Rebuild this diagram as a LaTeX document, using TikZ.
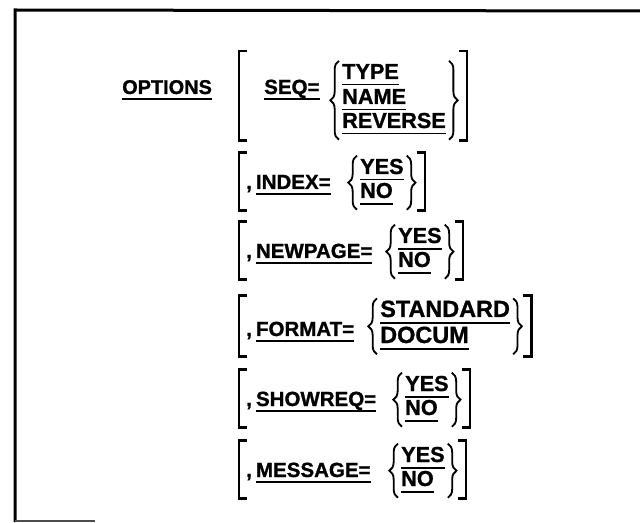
\documentclass[tikz,border=0pt]{standalone}
\usepackage{fontspec}
\setmainfont[BoldFeatures={FakeBold=1.1}]{Liberation Sans}
\usetikzlibrary{positioning,calc,decorations.pathreplacing}

% underlined keyword, rule set a little below the baseline
\newcommand{\optul}[1]{\setbox0=\hbox{#1}\rlap{\rule[-0.3em]{\wd0}{0.085em}}\box0}

\begin{document}
\begin{tikzpicture}[x=0.3mm, y=-0.3mm]
\tikzstyle{word}=[inner sep=0pt, anchor=base west, font=\fontsize{17.5}{21}\selectfont\bfseries]
\tikzstyle{opt}=[word, font=\fontsize{18.5}{22}\selectfont\bfseries]
\tikzstyle{bigopt}=[word, font=\fontsize{20}{24}\selectfont\bfseries]
\tikzstyle{brk}=[line width=0.8mm]
\tikzstyle{brc}=[line width=0.55mm, decorate, decoration={brace, amplitude=2.6mm}]
\tikzstyle{frame}=[line width=0.9mm]
\useasboundingbox (0,0) rectangle (640,523);
% frame, cut off at the right and the bottom
\draw[frame] (640,11) -- (15,10) -- (15,522);
\draw[line width=0.6mm, black!70] (15,521) -- (95,521);
\coordinate (lb) at (239,0);

% SEQ
\node[word, font=\fontsize{17}{20}\selectfont\bfseries] (opts) at (122,94) {\optul{OPTIONS}};
\node[word] (seq) at (264,94) {\optul{SEQ=}};
\node[opt] (type) at (342,79) {\optul{TYPE}};
\node[opt] (name) at (342,104) {\optul{NAME}};
\node[opt] (rev) at (342,128) {\optul{REVERSE}};
\draw[brk] ($(lb |- type.north)+(8,-13)$) -| ($(lb |- rev.south)+(0,6)$) -- ++(8,0);
\draw[brc] ($(rev.south west)+(-3,5)$) -- ($(type.north west)+(-3,-3)$);
\draw[brc] ($(rev.east |- type.north)+(3,-3)$) -- ($(rev.south east)+(3,5)$);
\draw[brk] ($(rev.east |- type.north)+(13,-13)$) -| ($(rev.south east)+(21,6)$) -- ++(-8,0);

% INDEX
\node[word] (idx) at (246,189) {,\kern0.2em\optul{INDEX=}};
\node[opt] (idxyes) at (360,174) {\optul{YES}};
\node[opt] (idxno) at (360,198) {\optul{NO}};
\draw[brk] ($(lb |- idxyes.north)+(8,-6)$) -| ($(lb |- idxno.south)+(0,6)$) -- ++(8,0);
\draw[brc] ($(idxno.south west)+(-3,5)$) -- ($(idxyes.north west)+(-3,-3)$);
\draw[brc] ($(idxyes.north east)+(3,-3)$) -- ($(idxyes.east |- idxno.south)+(3,5)$);
\draw[brk] ($(idxyes.north east)+(13,-6)$) -| ($(idxyes.east |- idxno.south)+(21,6)$) -- ++(-8,0);

% NEWPAGE
\node[word] (npg) at (246,258) {,\kern0.2em\optul{NEWPAGE=}};
\node[opt] (npgyes) at (398,243) {\optul{YES}};
\node[opt] (npgno) at (398,267) {\optul{NO}};
\draw[brk] ($(lb |- npgyes.north)+(8,-6)$) -| ($(lb |- npgno.south)+(0,6)$) -- ++(8,0);
\draw[brc] ($(npgno.south west)+(-3,5)$) -- ($(npgyes.north west)+(-3,-3)$);
\draw[brc] ($(npgyes.north east)+(3,-3)$) -- ($(npgyes.east |- npgno.south)+(3,5)$);
\draw[brk] ($(npgyes.north east)+(13,-6)$) -| ($(npgyes.east |- npgno.south)+(21,6)$) -- ++(-8,0);

% FORMAT
\node[word] (fmt) at (246,336) {,\kern0.2em\optul{FORMAT=}};
\node[bigopt] (fmtstd) at (380,317) {\optul{STANDARD}};
\node[bigopt] (fmtdoc) at (380,343) {\optul{DOCUM}};
\draw[brk] ($(lb |- fmtstd.north)+(8,-5)$) -| ($(lb |- fmtdoc.south)+(0,6)$) -- ++(8,0);
\draw[brc] ($(fmtdoc.south west)+(-3,4)$) -- ($(fmtstd.north west)+(-3,-2)$);
\draw[brc] ($(fmtstd.north east)+(3,-2)$) -- ($(fmtstd.east |- fmtdoc.south)+(3,4)$);
\draw[brk] ($(fmtstd.north east)+(13,-5)$) -| ($(fmtstd.east |- fmtdoc.south)+(21,6)$) -- ++(-8,0);

% SHOWREQ
\node[word] (shr) at (246,406) {,\kern0.2em\optul{SHOWREQ=}};
\node[opt] (shryes) at (405,391) {\optul{YES}};
\node[opt] (shrno) at (405,415) {\optul{NO}};
\draw[brk] ($(lb |- shryes.north)+(8,-6)$) -| ($(lb |- shrno.south)+(0,6)$) -- ++(8,0);
\draw[brc] ($(shrno.south west)+(-3,5)$) -- ($(shryes.north west)+(-3,-3)$);
\draw[brc] ($(shryes.north east)+(3,-3)$) -- ($(shryes.east |- shrno.south)+(3,5)$);
\draw[brk] ($(shryes.north east)+(13,-6)$) -| ($(shryes.east |- shrno.south)+(21,6)$) -- ++(-8,0);

% MESSAGE
\node[word] (msg) at (246,477) {,\kern0.2em\optul{MESSAGE=}};
\node[opt] (msgyes) at (401,462) {\optul{YES}};
\node[opt] (msgno) at (401,486) {\optul{NO}};
\draw[brk] ($(lb |- msgyes.north)+(8,-6)$) -| ($(lb |- msgno.south)+(0,6)$) -- ++(8,0);
\draw[brc] ($(msgno.south west)+(-3,5)$) -- ($(msgyes.north west)+(-3,-3)$);
\draw[brc] ($(msgyes.north east)+(3,-3)$) -- ($(msgyes.east |- msgno.south)+(3,5)$);
\draw[brk] ($(msgyes.north east)+(13,-6)$) -| ($(msgyes.east |- msgno.south)+(21,6)$) -- ++(-8,0);
\end{tikzpicture}
\end{document}
